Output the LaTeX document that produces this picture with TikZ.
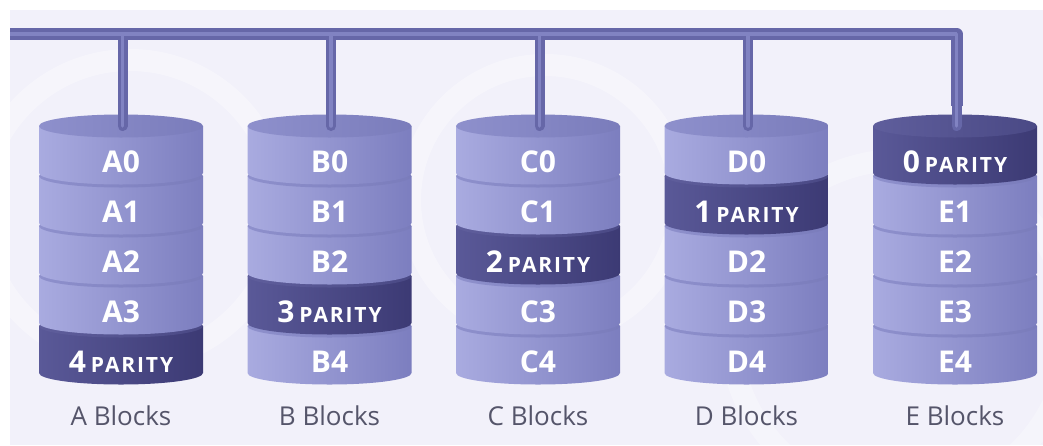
\documentclass[tikz,border=0pt]{standalone}
\usepackage{fontspec}
\setmainfont{Open Sans}
\newfontfamily\capsfont[LetterSpace=9]{Open Sans}
\usetikzlibrary{calc}

\definecolor{bgpale}{HTML}{F2F1FA}
\definecolor{busdark}{HTML}{6667A8}
\definecolor{buslight}{HTML}{8183C2}
\definecolor{lightL}{HTML}{A9ABE0}
\definecolor{lightM}{HTML}{9B9DD7}
\definecolor{lightR}{HTML}{7C7EBF}
\definecolor{lightTopL}{HTML}{8E90CC}
\definecolor{lightTopR}{HTML}{7A7CBB}
\definecolor{darkL}{HTML}{5A5998}
\definecolor{darkM}{HTML}{4E4D8C}
\definecolor{darkR}{HTML}{3C3A74}
\definecolor{darkTopL}{HTML}{5F5E9C}
\definecolor{darkTopR}{HTML}{4A4985}
\definecolor{captiongray}{HTML}{55556A}

\tikzset{
  bus/.style={line width=12pt, draw=busdark, line cap=butt, line join=round},
  busglow/.style={line width=4pt, draw=buslight, line cap=butt, line join=round},
  drop/.style={line width=10pt, draw=busdark, line cap=round},
  dropglow/.style={line width=3.5pt, draw=buslight, line cap=round},
  diskbody light/.style={left color=lightL, middle color=lightM, right color=lightR},
  disktop light/.style={left color=lightTopL, right color=lightTopR},
  diskbody dark/.style={left color=darkL, middle color=darkM, right color=darkR},
  disktop dark/.style={left color=darkTopL, right color=darkTopR},
  disklabel/.style={text=white, font=\bfseries\fontsize{30}{30}\selectfont, inner sep=0pt},
  caption/.style={text=captiongray, font=\fontsize{26}{26}\selectfont, inner sep=0pt},
}

% one platter: centre x, top-ellipse centre y, kind (light/dark)
\newcommand\platter[3]{%
  \shade[diskbody #3] (#1-82,#2) -- (#1-82,#2+47)
    arc[start angle=180, end angle=0, x radius=82, y radius=11.5]
    -- (#1+82,#2) -- cycle;
  \shade[disktop #3] (#1,#2) ellipse[x radius=82, y radius=11.5];
}
\newcommand\paritytext[1]{#1\,{\capsfont\fontsize{21}{21}\selectfont PARITY}}

\begin{document}
\begin{tikzpicture}[x=1pt, y=-1pt]
  \useasboundingbox (0,0) rectangle (1043,445);
  \fill[white] (0,0) rectangle (1043,445);
  \fill[bgpale] (10,10) rectangle (1043,445);

  % faint background swirls
  \begin{scope}
    \clip (10,10) rectangle (1043,445);
    \draw[white, line width=22pt, opacity=0.35] (130,210) circle[radius=150];
    \draw[white, line width=22pt, opacity=0.35] (545,200) circle[radius=135];
    \draw[white, line width=22pt, opacity=0.3] (900,330) circle[radius=170];
  \end{scope}

  % stacks: A..E, parity platter moves up one level per stack
  \foreach \name/\i/\p in {A/0/4, B/1/3, C/2/2, D/3/1, E/4/0}{
    \pgfmathsetmacro{\cx}{121+208.5*\i}
    \foreach \k in {4,3,2,1,0}{
      \pgfmathsetmacro{\ty}{126+50*\k}
      \ifnum\k=\p
        \platter{\cx}{\ty}{dark}
      \else
        \platter{\cx}{\ty}{light}
      \fi
    }
    \coordinate (top\name) at (\cx+1.5,126);
    \coordinate (tap\name) at (\cx+1.5,34);
    \node[caption] (cap\name) at (\cx,416) {\name{} Blocks};
  }

  % platter labels
  \foreach \name/\i/\p in {A/0/4, B/1/3, C/2/2, D/3/1, E/4/0}{
    \pgfmathsetmacro{\cx}{121+208.5*\i}
    \foreach \k in {0,...,4}{
      \pgfmathsetmacro{\ly}{126+11.5+24+50*\k}
      \ifnum\k=\p
        \node[disklabel] (\name\k) at (\cx,\ly) {\paritytext{\p}};
      \else
        \node[disklabel] (\name\k) at (\cx,\ly) {\name\k};
      \fi
    }
  }

  % shared bus with a drop to every stack
  \coordinate (busstart) at (10,34);
  \foreach \name in {A,B,C,D,E}{
    \draw[drop] (tap\name) -- (top\name);
  }
  \draw[bus] (busstart) -- (tapE) -- ($(topE)+(0,-20)$);
  \foreach \name in {A,B,C,D,E}{
    \draw[dropglow] (tap\name) -- (top\name);
  }
  \draw[busglow] (busstart) -- (tapE);
\end{tikzpicture}
\end{document}
